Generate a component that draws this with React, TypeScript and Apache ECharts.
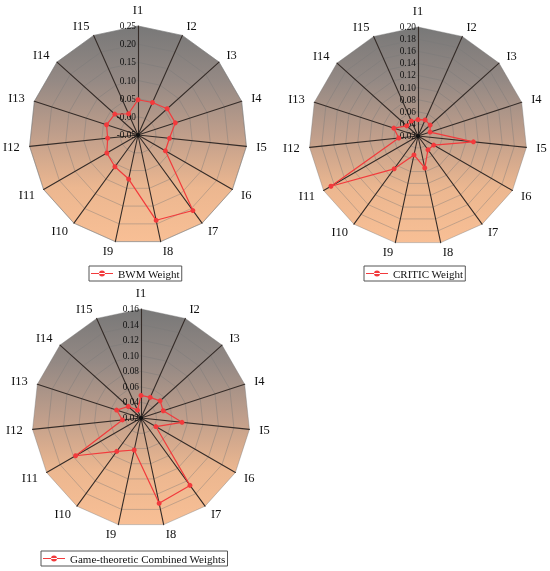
import React, { useEffect, useRef } from "react";
import * as echarts from "echarts";

const indicatorNames = ["I1", "I2", "I3", "I4", "I5", "I6", "I7", "I8", "I9", "I10", "I11", "I12", "I13", "I14", "I15"];
const bwmWeights = [0.047, 0.048, 0.058, 0.058, 0.037, 0.037, 0.207, 0.19, 0.074, 0.058, 0.049, 0.034, 0.041, 0.036, 0.014];
const criticWeights = [0.047, 0.049, 0.047, 0.041, 0.112, 0.05, 0.048, 0.074, 0.052, 0.087, 0.186, 0.052, 0.062, 0.045, 0.047];
const combinedWeights = [0.049, 0.049, 0.053, 0.05, 0.073, 0.042, 0.127, 0.132, 0.062, 0.073, 0.117, 0.044, 0.053, 0.042, 0.031];
const seriesNames = ["BWM Weight", "CRITIC Weight", "Game-theoretic Combined Weights"];
const axisRanges = [
  { min: -0.05, max: 0.25, split: 6 },
  { min: 0.02, max: 0.2, split: 9 },
  { min: 0.02, max: 0.16, split: 7 },
];

const FONT = "'Liberation Serif', 'Times New Roman', serif";
const RED = "#f23a3c";
const R = 109;

// ECharts places radar indicators counter-clockwise; reorder for clockwise layout
const n = indicatorNames.length;
const order = indicatorNames.map((_, i) => (n - i) % n);

export default function App() {
  const ref = useRef<HTMLDivElement>(null);
  useEffect(() => {
    if (!ref.current) return;
    const chart = echarts.init(ref.current, undefined, { renderer: "svg" });
    const centers: [number, number][] = [
      [138, 135],
      [418, 136],
      [141, 418],
    ];
    const legendPos = [
      { left: 89, top: 266 },
      { left: 364, top: 266 },
      { left: 41, top: 551 },
    ];
    const datasets = [bwmWeights, criticWeights, combinedWeights];

    const radars = centers.map((c, k) => {
      const rng = axisRanges[k];
      const grad = new echarts.graphic.LinearGradient(
        0,
        c[1] - R,
        0,
        c[1] + R * 0.98,
        [
          { offset: 0, color: "#787878" },
          { offset: 0.25, color: "#948984" },
          { offset: 0.5, color: "#bf9e8b" },
          { offset: 0.75, color: "#ecb790" },
          { offset: 1, color: "#f8bf95" },
        ],
        true
      );
      return {
        center: [c[0], c[1]],
        radius: R,
        startAngle: 90,
        shape: "polygon",
        splitNumber: rng.split,
        nameGap: 10,
        axisName: { color: "#111", fontSize: 12.5, fontFamily: FONT },
        indicator: order.map((idx, j) => ({
          name: indicatorNames[idx],
          min: rng.min,
          max: rng.max,
          ...(j === 0
            ? {
                axisLabel: {
                  show: true,
                  color: "#111",
                  fontSize: 9.3,
                  fontFamily: FONT,
                  margin: 2,
                  formatter: (v: number) => v.toFixed(2),
                },
              }
            : {}),
        })),
        axisLabel: { show: false },
        axisTick: { show: false },
        axisLine: { show: true, lineStyle: { color: "#352c28", width: 1.1 } },
        splitLine: { show: true, lineStyle: { color: "rgba(120,120,120,0.4)", width: 1 } },
        splitArea: { show: true, areaStyle: { color: [grad] } },
      };
    });

    const legendIcon =
      "path://M0,4.8L44,4.8L44,7.2L0,7.2Z M16,6A6,6 0 1,0 28,6A6,6 0 1,0 16,6Z";

    chart.setOption({
      animation: false,
      radar: radars,
      graphic: centers.map((c) => ({
        type: "circle",
        x: c[0],
        y: c[1],
        z: 100,
        silent: true,
        shape: { cx: 0, cy: 0, r: 2 },
        style: { fill: "#111" },
      })),
      legend: seriesNames.map((name, k) => ({
        data: [name],
        left: legendPos[k].left,
        top: legendPos[k].top,
        orient: "horizontal",
        icon: legendIcon,
        itemWidth: 22,
        itemHeight: 6,
        itemGap: 5,
        padding: [2, 2, 2, 2],
        borderColor: "#555",
        borderWidth: 1,
        textStyle: { fontFamily: FONT, fontSize: 11, color: "#111" },
      })),
      series: datasets.map((vals, k) => ({
        type: "radar",
        name: seriesNames[k],
        radarIndex: k,
        symbol: "circle",
        symbolSize: 5,
        itemStyle: { color: RED },
        lineStyle: { color: RED, width: 1.2 },
        data: [{ name: seriesNames[k], value: order.map((idx) => vals[idx]) }],
      })),
    });
    return () => chart.dispose();
  }, []);
  return (
    <div
      ref={ref}
      style={{ position: "fixed", left: 0, top: 0, width: 550, height: 571 }}
    />
  );
}
